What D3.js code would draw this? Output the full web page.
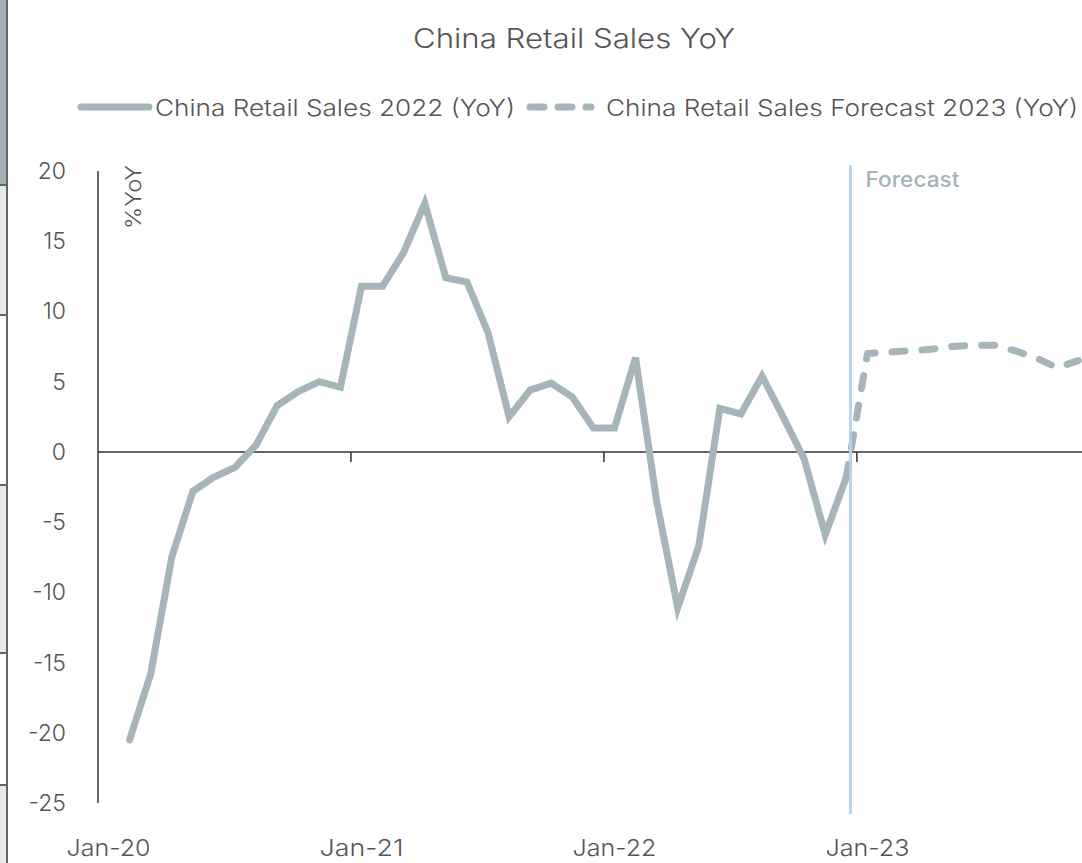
<!DOCTYPE html>
<html>
<head>
<meta charset="utf-8">
<script src="https://cdn.jsdelivr.net/npm/d3@7"></script>
<style>
  html, body { margin: 0; padding: 0; background: #fff; }
  svg { display: block; font-family: Inter, "Liberation Sans", Arial, sans-serif; font-weight: 300; }
</style>
</head>
<body>
<svg id="chart" width="1082" height="863"></svg>
<script>
// ---- data ----
const title = "China Retail Sales YoY";
const seriesNames = ["China Retail Sales 2022 (YoY)", "China Retail Sales Forecast 2023 (YoY)"];
const startMonth = "2020-01";
const monthCount = 47; // Jan-20 .. Nov-23
const actualStart = "2020-02";
const actualValues = [
  -20.5, -15.8, -7.5, -2.8, -1.8, -1.1, 0.5, 3.3, 4.3, 5.0, 4.6,
  11.8, 11.8, 14.2, 17.7, 12.4, 12.1, 8.5, 2.5, 4.4, 4.9, 3.9, 1.7,
  1.7, 6.7, -3.5, -11.1, -6.7, 3.1, 2.7, 5.4, 2.5, -0.5, -5.9, -1.8
];
const forecastStart = "2022-12";
const forecastValues = [-1.8, 7.0, 7.1, 7.2, 7.3, 7.5, 7.6, 7.6, 7.2, 6.7, 6.0, 6.5];
const yTicks = [20, 15, 10, 5, 0, -5, -10, -15, -20, -25];
const xTickLabels = ["Jan-20", "Jan-21", "Jan-22", "Jan-23"];
const forecastMarker = "2022-12";
const yLabel = "%YoY";
const forecastLabel = "Forecast";

// ---- helpers ----
const parse = d3.timeParse("%Y-%m");
const fmtKey = d3.timeFormat("%Y-%m");
const fmtLabel = d3.timeFormat("%b-%y");
const months = d3.range(monthCount).map(i => fmtKey(d3.timeMonth.offset(parse(startMonth), i)));
const seq = (start, vals) => vals.map((v, i) => ({ m: fmtKey(d3.timeMonth.offset(parse(start), i)), v }));
const actual = seq(actualStart, actualValues);
const forecast = seq(forecastStart, forecastValues);

const svg = d3.select("#chart");
const lineColor = "#a5b5b9";
const textColor = "#555";
const markerColor = "#b9d5f0";

// ---- left edge decoration (spreadsheet edge) ----
const edge = svg.append("g");
edge.append("rect").attr("x", 0).attr("y", 0).attr("width", 7).attr("height", 185).attr("fill", "#a0b0b3");
[[185, 315], [485, 653], [785, 863]].forEach(([a, b]) => {
  edge.append("rect").attr("x", 0).attr("y", a).attr("width", 7).attr("height", b - a).attr("fill", "#e9e9e9");
});
[185, 315, 485, 653, 785].forEach(y => {
  edge.append("line").attr("x1", 0).attr("x2", 8).attr("y1", y).attr("y2", y).attr("stroke", "#666").attr("stroke-width", 2);
});
edge.append("line").attr("x1", 7).attr("x2", 7).attr("y1", 0).attr("y2", 863).attr("stroke", "#666").attr("stroke-width", 2);

// ---- scales ----
const x = d3.scaleBand().domain(months).range([98, 98 + monthCount * 21.08]).paddingInner(0).paddingOuter(0);
const cx = m => x(m) + x.bandwidth() / 2;
const y = d3.scaleLinear().domain([-25, 20]).range([803, 171]);

// ---- title ----
svg.append("text").attr("x", 574).attr("y", 48).attr("text-anchor", "middle")
  .attr("font-size", 27).attr("fill", textColor)
  .attr("textLength", 322).attr("lengthAdjust", "spacingAndGlyphs").text(title);

// ---- legend ----
const lg = svg.append("g");
lg.append("line").attr("x1", 81).attr("x2", 149).attr("y1", 107).attr("y2", 107)
  .attr("stroke", lineColor).attr("stroke-width", 7).attr("stroke-linecap", "round");
lg.append("text").attr("x", 155).attr("y", 116).attr("font-size", 23).attr("fill", textColor)
  .attr("textLength", 360).attr("lengthAdjust", "spacingAndGlyphs").text(seriesNames[0]);
lg.append("line").attr("x1", 530).attr("x2", 591).attr("y1", 107).attr("y2", 107)
  .attr("stroke", lineColor).attr("stroke-width", 7).attr("stroke-linecap", "round")
  .attr("stroke-dasharray", "14 14");
lg.append("text").attr("x", 606).attr("y", 116).attr("font-size", 23).attr("fill", textColor)
  .attr("textLength", 472).attr("lengthAdjust", "spacingAndGlyphs").text(seriesNames[1]);

// ---- axes ----
const yAxis = svg.append("g");
yAxis.append("line").attr("x1", 98).attr("x2", 98).attr("y1", y(20)).attr("y2", y(-25))
  .attr("stroke", "#333").attr("stroke-width", 1.5);
yAxis.selectAll("text.ytick").data(yTicks).join("text")
  .attr("class", "ytick")
  .attr("x", 66).attr("y", d => y(d) + 8)
  .attr("text-anchor", "end").attr("font-size", 23).attr("fill", textColor)
  .text(d => d);

const xAxis = svg.append("g");
xAxis.append("line").attr("x1", 98).attr("x2", 1082).attr("y1", y(0)).attr("y2", y(0))
  .attr("stroke", "#333").attr("stroke-width", 1.5);
const janMonths = months.filter(m => xTickLabels.includes(fmtLabel(parse(m))));
xAxis.selectAll("line.xtick").data(janMonths.slice(1)).join("line")
  .attr("class", "xtick")
  .attr("x1", d => x(d)).attr("x2", d => x(d))
  .attr("y1", y(0)).attr("y2", y(0) + 10)
  .attr("stroke", "#333").attr("stroke-width", 1.5);
xAxis.selectAll("text.xlab").data(janMonths).join("text")
  .attr("class", "xlab")
  .attr("x", d => cx(d)).attr("y", 856)
  .attr("text-anchor", "middle").attr("font-size", 23).attr("fill", textColor)
  .attr("textLength", 84).attr("lengthAdjust", "spacingAndGlyphs")
  .text(d => fmtLabel(parse(d)));

// y label
svg.append("text").attr("transform", `translate(141, 197) rotate(-90)`)
  .attr("text-anchor", "middle").attr("font-size", 21).attr("fill", textColor)
  .attr("textLength", 64).attr("lengthAdjust", "spacingAndGlyphs").text(yLabel);

// ---- forecast marker ----
const fx = Math.round(cx(forecastMarker) + 4) + 0.5;
svg.append("line").attr("x1", fx).attr("x2", fx).attr("y1", 165).attr("y2", 814)
  .attr("stroke", markerColor).attr("stroke-width", 3);
svg.append("text").attr("x", fx + 15).attr("y", 187).attr("font-size", 21)
  .attr("fill", "#a3b3b8").style("font-weight", 500)
  .attr("textLength", 94).attr("lengthAdjust", "spacingAndGlyphs").text(forecastLabel);

// ---- lines ----
const line = d3.line().x(d => cx(d.m)).y(d => y(d.v));
svg.append("path").datum(forecast).attr("d", line)
  .attr("fill", "none").attr("stroke", lineColor).attr("stroke-width", 7)
  .attr("stroke-linecap", "round").attr("stroke-linejoin", "round")
  .attr("stroke-dasharray", "13 17");
svg.append("path").datum(actual).attr("d", line)
  .attr("fill", "none").attr("stroke", lineColor).attr("stroke-width", 7)
  .attr("stroke-linecap", "round").attr("stroke-linejoin", "miter");

// marker overlays the line end in the reference
svg.append("line").attr("x1", fx).attr("x2", fx).attr("y1", 400).attr("y2", 500)
  .attr("stroke", markerColor).attr("stroke-width", 3).attr("opacity", 0.8);
</script>
</body>
</html>
